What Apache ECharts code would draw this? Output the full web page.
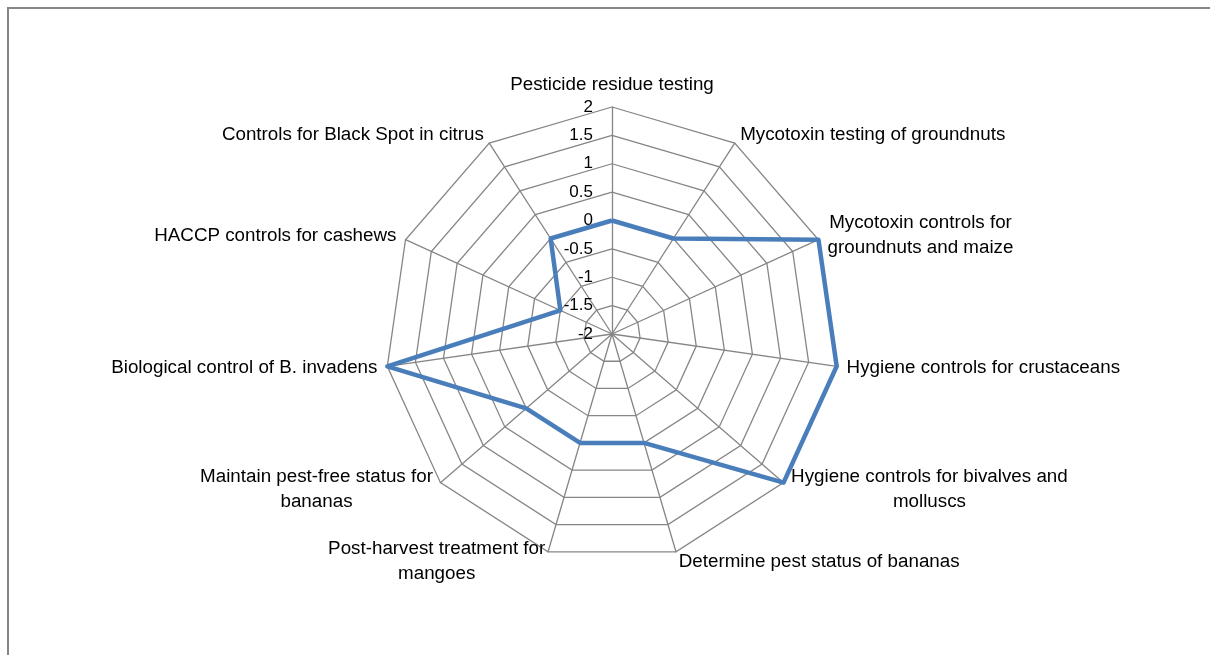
<!DOCTYPE html>
<html>
<head>
<meta charset="utf-8">
<script src="https://cdn.jsdelivr.net/npm/echarts@6/dist/echarts.min.js"></script>
<style>
html, body { margin: 0; padding: 0; background: #fff; }
#chart { width: 1210px; height: 655px; }
</style>
</head>
<body>
<div id="chart"></div>
<script>
// Categories in clockwise order starting at the top
const categories = [
  "Pesticide residue testing",
  "Mycotoxin testing of groundnuts",
  "Mycotoxin controls for\ngroundnuts and maize",
  "Hygiene controls for crustaceans",
  "Hygiene controls for bivalves and\nmolluscs",
  "Determine pest status of bananas",
  "Post-harvest treatment for\nmangoes",
  "Maintain pest-free status for\nbananas",
  "Biological control of B. invadens",
  "HACCP controls for cashews",
  "Controls for Black Spot in citrus"
];
const values = [0, 0, 2, 2, 2, 0, 0, 0, 2, -1, 0];
const axisMin = -2;
const axisMax = 2;
const axisInterval = 0.5;

// ECharts lays radar indicators counter-clockwise; reorder to get clockwise.
const order = [0];
for (let i = categories.length - 1; i >= 1; i--) order.push(i);

const indicators = order.map(function (i, k) {
  const ind = { name: categories[i], min: axisMin, max: axisMax };
  ind.axisLabel = { show: k === 0 };
  return ind;
});
const seriesValues = order.map(function (i) { return values[i]; });

const chart = echarts.init(document.getElementById('chart'), null, { renderer: 'canvas' });
const FONT = '"Liberation Sans", Arial, sans-serif';
chart.setOption({
  animation: false,
  backgroundColor: '#ffffff',
  graphic: [{
    type: 'rect',
    shape: { x: 8, y: 8, width: 1400, height: 900 },
    style: { fill: 'none', stroke: '#868686', lineWidth: 2 },
    silent: true
  }],
  radar: {
    center: [612, 334],
    radius: 227,
    startAngle: 90,
    shape: 'polygon',
    splitNumber: (axisMax - axisMin) / axisInterval,
    indicator: indicators,
    axisName: {
      color: '#000000',
      fontFamily: FONT,
      fontSize: 18.8,
      formatter: function (name) {
        return name.split('\n').map(function (l) { return '{c|' + l + '}'; }).join('\n');
      },
      rich: {
        c: { align: 'center', color: '#000000', fontFamily: FONT, fontSize: 18.8, lineHeight: 25 }
      }
    },
    nameGap: 10,
    axisLine: { lineStyle: { color: '#868686', width: 1.3 } },
    splitLine: { lineStyle: { color: '#868686', width: 1.3 } },
    splitArea: { show: false },
    axisTick: { show: false },
    axisLabel: {
      show: false,
      color: '#000000',
      fontFamily: FONT,
      fontSize: 17,
      margin: 19
    }
  },
  series: [{
    type: 'radar',
    symbol: 'none',
    lineStyle: { color: '#4a7ebb', width: 4.5 },
    itemStyle: { color: '#4a7ebb' },
    data: [{ value: seriesValues, name: 'Series 1' }]
  }]
});
</script>
</body>
</html>
